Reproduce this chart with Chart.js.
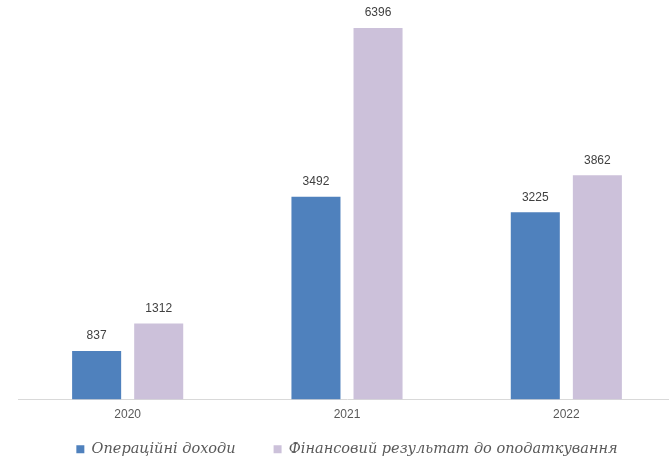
<!DOCTYPE html>
<html>
<head>
<meta charset="utf-8">
<script src="https://cdn.jsdelivr.net/npm/chart.js@4/dist/chart.umd.min.js"></script>
<style>
  html, body { margin: 0; padding: 0; background: #fff; overflow: hidden; }
  #wrap { position: absolute; left: 0; top: 0; width: 676px; height: 463px; }
</style>
</head>
<body>
<div id="wrap"><canvas id="chart"></canvas></div>
<script>
const years = ['2020', '2021', '2022'];
const operatingIncome = [837, 3492, 3225];
const preTaxResult = [1312, 6396, 3862];
const seriesNames = ['Операційні доходи', 'Фінансовий результат до оподаткування'];

// value labels above each bar
const valueLabels = {
  id: 'valueLabels',
  afterDatasetsDraw(chart) {
    const ctx = chart.ctx;
    ctx.save();
    ctx.font = '12px "Liberation Sans", Arial, sans-serif';
    ctx.fillStyle = '#404040';
    ctx.textAlign = 'center';
    ctx.textBaseline = 'bottom';
    chart.data.datasets.forEach((ds, i) => {
      chart.getDatasetMeta(i).data.forEach((bar, j) => {
        ctx.fillText(String(ds.data[j]), bar.x, bar.y - 9);
      });
    });
    ctx.restore();
  }
};

// wide gaps between legend items need a big padding, which also makes the
// legend tall; reserve a short box in the layout, then let it grow upwards
// (over the empty part of the x axis) so the labels are not clipped
const compactLegend = {
  id: 'compactLegend',
  beforeInit(chart) {
    const legend = chart.legend;
    const fit = legend.fit;
    legend.fit = function () {
      fit.call(this);
      this.height = 33;
    };
  },
  afterLayout(chart) {
    const lg = chart.legend;
    lg.top = lg.bottom - 59;
    lg.height = lg.bottom - lg.top;
  }
};

new Chart(document.getElementById('chart'), {
  type: 'bar',
  data: {
    labels: years,
    datasets: [
      { label: seriesNames[0], data: operatingIncome, backgroundColor: '#4f81bd' },
      { label: seriesNames[1], data: preTaxResult, backgroundColor: '#ccc1da' }
    ]
  },
  options: {
    responsive: true,
    maintainAspectRatio: false,
    animation: false,
    layout: { padding: { left: 18, right: 0, top: 0, bottom: 0 } },
    datasets: { bar: { categoryPercentage: 0.566, barPercentage: 0.79 } },
    plugins: {
      legend: {
        position: 'bottom',
        labels: {
          boxWidth: 8,
          boxHeight: 8,
          padding: 38,
          color: '#595959',
          font: { family: '"DejaVu Serif", serif', style: 'italic', size: 14.5 }
        }
      },
      tooltip: { enabled: false }
    },
    scales: {
      x: {
        grid: { display: false, drawTicks: false },
        border: { display: true, color: '#d9d9d9', width: 1 },
        ticks: {
          padding: 8,
          color: '#595959',
          font: { family: '"Liberation Sans", Arial, sans-serif', size: 12 }
        }
      },
      y: {
        display: false,
        min: 0,
        max: 6880
      }
    }
  },
  plugins: [valueLabels, compactLegend]
});
</script>
</body>
</html>
